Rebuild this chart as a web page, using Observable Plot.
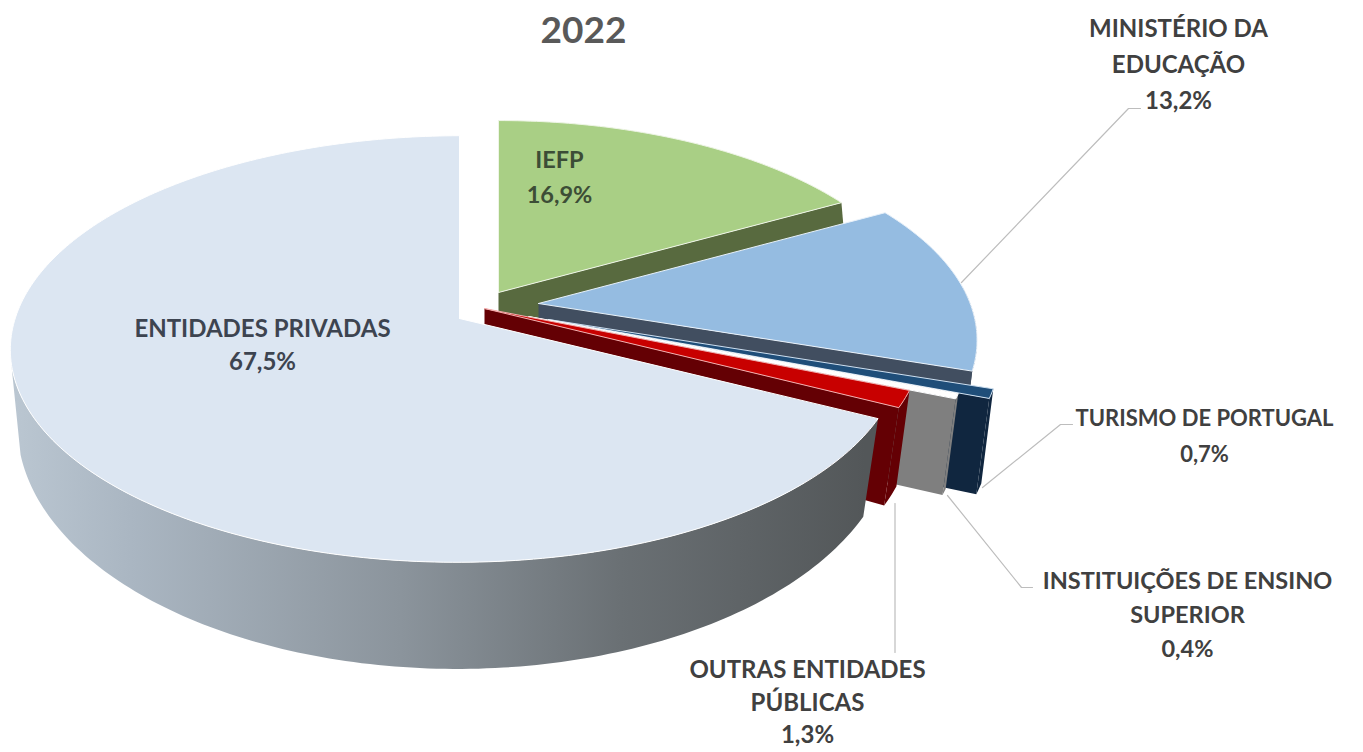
<!DOCTYPE html>
<html>
<head>
<meta charset="utf-8">
<script src="https://cdn.jsdelivr.net/npm/d3@7"></script>
<script src="https://cdn.jsdelivr.net/npm/@observablehq/plot@0.6"></script>
<style>
html,body{margin:0;padding:0;background:#fff}
svg{display:block}
</style>
</head>
<body>
<div id="chart"></div>
<script>
// Data, clockwise from twelve o'clock
const categories = ["IEFP", "MINISTÉRIO DA|EDUCAÇÃO", "TURISMO DE PORTUGAL", "INSTITUIÇÕES DE ENSINO|SUPERIOR", "OUTRAS ENTIDADES|PÚBLICAS", "ENTIDADES PRIVADAS"];
const shares = [16.9, 13.2, 0.7, 0.4, 1.3, 67.5];
const title = "2022";

// Styles
const topColors = ["#a9cf85", "#95bce1", "#1f4e79", "#ffffff", "#c80000", "#dce6f2"];
const faceColors = ["#586a3f", "#414e60", "#10263f", "#7f7f7f", "#640004", "#6a7074"];
const edgeColors = ["#eef5e6", "#e8f1fa", "#cfe0f0", "#ffffff", "#f4b0b0", "#ffffff"];

// Layout of the exploded slices
const apexX = [498, 538, 548, 528, 484, 459];
const apexY = [292, 303, 319, 316, 308, 318];
const radiusStart = [0.95, 0.96, 1.005, 0.98, 0.975, 0.985];
const radiusEnd = [0.95, 0.98, 1.005, 0.98, 0.975, 1.01];
const labelX = [559, 1178, 1204, 1187, 807, 262];
const labelY = [160, 29, 418, 581, 670, 329];
const labelStep = [35, 36, 36, 34, 32.5, 33];
const labelSize = [23.5, 24, 22, 23.5, 24, 24];
const labelInk = ["#3c4d36", "#404040", "#404040", "#404040", "#404040", "#3d4450"];
const leaderX = [[], [961, 1128, 1140], [982, 1060, 1072], [947, 1021, 1032], [894.5, 894.5], []];
const leaderY = [[], [282, 108, 108], [487, 424, 424], [495, 587, 587], [503, 652], []];

const wallX = [15, 130, 400, 620, 865];
const wallInk = ["#bac6d1", "#aab6c2", "#8b949c", "#6a7074", "#535759"];
const wallLimit = 258;

// Perspective of the disc: upper plane and lower plane
const upper = {dy: 0, a: 208.5, b: 444, k: 0.152};
const lower = {dy: 85, a: 242, b: 440, k: 0.096};
function project(i, deg, plane, s) {
  const t = deg * Math.PI / 180, u = Math.sin(t), v = Math.cos(t), d = 1 + plane.k * v;
  return {x: apexX[i] + s * plane.b * u / d, y: apexY[i] + plane.dy - s * plane.a * v / d};
}

let cumulative = 0;
const slices = shares.map((share, i) => {
  const start = cumulative * 3.6;
  cumulative += share;
  return {i, start, end: cumulative * 3.6};
});
const rad = (sl, deg) => radiusStart[sl.i] + (radiusEnd[sl.i] - radiusStart[sl.i]) * (deg - sl.start) / (sl.end - sl.start);

// Horizontal shading of the outer wall of the large slice
const gradient = () => {
  const defs = d3.create("svg:defs");
  const g = defs.append("linearGradient").attr("id", "wall-shade")
    .attr("gradientUnits", "userSpaceOnUse")
    .attr("x1", wallX[0]).attr("x2", wallX[wallX.length - 1]).attr("y1", 0).attr("y2", 0);
  wallX.forEach((x, j) => {
    g.append("stop")
      .attr("offset", (x - wallX[0]) / (wallX[wallX.length - 1] - wallX[0]))
      .attr("stop-color", wallInk[j]);
  });
  return defs.node();
};

const marks = [gradient];
for (const sl of slices) {
  const {i, start, end} = sl;
  const n = Math.max(2, Math.ceil(end - start));
  const steps = d3.range(n + 1).map(j => start + (end - start) * j / n);
  // Cut face below the clockwise edge
  if (end < 300) {
    const s = rad(sl, end);
    const face = [
      {x: apexX[i], y: apexY[i]},
      project(i, end, upper, s),
      project(i, end, lower, s),
      {x: apexX[i], y: apexY[i] + lower.dy}
    ];
    marks.push(Plot.line(face, {x: "x", y: "y", fill: faceColors[i], stroke: "none"}));
  }
  // Outer wall
  const arc = steps.filter(deg => deg >= 85 && deg <= wallLimit);
  if (i === 5 && arc[arc.length - 1] < wallLimit) arc.push(wallLimit);
  if (arc.length > 1) {
    const wall = [
      ...arc.map(deg => project(i, deg, upper, rad(sl, deg))),
      ...arc.slice().reverse().map(deg => project(i, deg, lower, rad(sl, deg)))
    ];
    marks.push(Plot.line(wall, {x: "x", y: "y", fill: i === 5 ? "url(#wall-shade)" : faceColors[i], stroke: "none"}));
  }
  // Upper surface
  const rim = [
    {x: apexX[i], y: apexY[i]},
    ...steps.map(deg => project(i, deg, upper, rad(sl, deg))),
    {x: apexX[i], y: apexY[i]}
  ];
  marks.push(Plot.line(rim, {x: "x", y: "y", fill: topColors[i], stroke: edgeColors[i], strokeWidth: 1, strokeLinejoin: "round"}));
}

// Leader lines
leaderX.forEach((xs, i) => {
  if (!xs.length) return;
  marks.push(Plot.line(xs.map((x, j) => ({x, y: leaderY[i][j]})), {x: "x", y: "y", stroke: "#bdbdbd", strokeWidth: 1.2}));
});

// Labels
const fmt = v => v.toFixed(1).replace(".", ",") + "%";
categories.forEach((name, i) => {
  const rows = [...name.split("|"), fmt(shares[i])].map((line, j) => ({line, x: labelX[i], y: labelY[i] + j * labelStep[i]}));
  marks.push(Plot.text(rows, {
    x: "x", y: "y", text: "line", fill: labelInk[i],
    fontFamily: "Lato", fontWeight: 700, fontSize: labelSize[i], textAnchor: "middle", lineAnchor: "middle"
  }));
});
marks.push(Plot.text([title], {
  x: () => 583, y: () => 31, text: d => d, fill: "#595959",
  fontFamily: "Lato", fontWeight: 700, fontSize: 37, textAnchor: "middle", lineAnchor: "middle"
}));

const chart = Plot.plot({
  width: 1363, height: 752,
  margin: 0,
  style: {background: "#fff", overflow: "hidden"},
  x: {domain: [0, 1363], range: [0, 1363], axis: null},
  y: {domain: [0, 752], range: [0, 752], axis: null},
  marks
});
document.getElementById("chart").append(chart);
</script>
</body>
</html>
